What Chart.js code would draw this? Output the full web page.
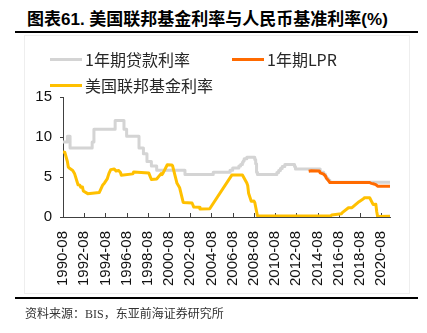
<!DOCTYPE html>
<html><head><meta charset="utf-8">
<script src="https://cdn.jsdelivr.net/npm/chart.js@4.4.1/dist/chart.umd.min.js"></script>
<style>
html,body{margin:0;padding:0;background:#fff;}
#wrap{position:relative;width:427px;height:333px;overflow:hidden;font-family:"Liberation Sans","Noto Sans CJK SC",sans-serif;}
#frame{position:absolute;left:24px;top:35px;width:384px;height:257px;border:1px solid #eeeeee;}
#title{position:absolute;left:27px;top:9px;font-size:17px;font-weight:bold;line-height:22px;color:#000;white-space:nowrap;}
.rule{position:absolute;left:15px;width:403px;height:2px;background:#000;}
#c{position:absolute;left:0;top:0;}
.lg{position:absolute;display:flex;align-items:center;font-family:"Noto Sans CJK SC",sans-serif;font-size:16px;color:#262626;white-space:nowrap;height:22px;line-height:22px;}
.lg i{display:inline-block;width:32px;height:3px;margin-right:3px;}
#src{position:absolute;left:25px;top:305px;font-size:12px;line-height:18px;color:#333;white-space:nowrap;font-family:"Liberation Serif","Noto Sans CJK SC",serif;}
</style>
</head><body>
<div id="wrap">
  <div id="frame"></div>
  <div id="title">图表61. 美国联邦基金利率与人民币基准利率(%)</div>
  <div class="rule" style="top:31px"></div>
  <canvas id="c" width="427" height="333"></canvas>
  <div class="lg" style="left:50px;top:48px"><i style="background:#D4D4D4"></i><span id="lg0"></span></div>
  <div class="lg" style="left:232px;top:48px"><i style="background:#FF6A00"></i><span id="lg1"></span></div>
  <div class="lg" style="left:50px;top:74px"><i style="background:#FFC000"></i><span id="lg2"></span></div>
  <div class="rule" style="top:297px"></div>
  <div id="src">资料来源：BIS，东亚前海证券研究所</div>
</div>
<script>
// ---- data ----
const seriesNames = ['1年期贷款利率', '1年期LPR', '美国联邦基金利率'];

const tickLabels = ['1990-08','1992-08','1994-08','1996-08','1998-08','2000-08','2002-08','2004-08',
  '2006-08','2008-08','2010-08','2012-08','2014-08','2016-08','2018-08','2020-08'];

const loanDates = ['1990-08','1991-01','1991-04','1993-05','1993-07','1995-07','1996-05','1996-08','1997-10','1998-03',
  '1998-07','1998-12','1999-06','2002-02','2004-10','2006-05','2006-08','2007-03','2007-05','2007-07',
  '2007-08','2007-09','2007-12','2008-09','2008-10','2008-11','2008-12','2010-10','2010-12','2011-02',
  '2011-04','2011-07','2012-06','2012-07','2014-11','2015-03','2015-05','2015-06','2015-08','2015-10','2021-06'];
const loanValues = [9.36,10.08,8.64,9.36,10.98,12.06,10.98,10.08,8.64,7.92,
  6.93,6.39,5.85,5.31,5.58,5.85,6.12,6.39,6.57,6.84,
  7.02,7.29,7.47,7.20,6.66,5.58,5.31,5.56,5.81,6.06,
  6.31,6.56,6.31,6.00,5.60,5.35,5.10,4.85,4.60,4.35,4.35];

const lprDates = ['2013-10','2014-01','2014-10','2014-11','2015-03','2015-05','2015-06','2015-08','2015-10',
  '2019-07','2019-08','2019-09','2019-11','2020-02','2020-04','2021-06'];
const lprValues = [5.71,5.77,5.76,5.51,5.35,5.11,4.86,4.60,4.30,4.31,4.25,4.20,4.15,4.05,3.85,3.85];

const fedDates = ['1990-08','1990-10','1991-01','1991-02','1991-03','1991-07','1991-09','1992-01','1992-03','1992-04',
  '1992-06','1992-07','1992-12','1994-01','1994-05','1994-07','1994-10','1994-12','1995-02','1995-06',
  '1995-08','1995-11','1996-01','1996-02','1997-03','1997-04','1998-09','1998-12','1999-06','1999-11',
  '1999-12','2000-01','2000-06','2000-11','2000-12','2001-05','2001-08','2001-12','2002-10','2002-12',
  '2003-06','2003-07','2004-06','2006-07','2007-07','2007-12','2008-01','2008-02','2008-05','2008-08',
  '2008-09','2008-12','2015-11','2015-12','2016-11','2016-12','2017-07','2017-11','2018-07','2018-12',
  '2019-01','2019-07','2019-11','2020-02','2020-03','2020-04','2021-06'];
const fedValues = [8.13,8.11,6.91,6.25,6.12,5.82,5.45,4.03,3.98,3.73,
  3.76,3.25,2.92,3.05,4.01,4.26,4.76,5.45,5.92,6.00,
  5.74,5.80,5.56,5.22,5.39,5.64,5.51,4.68,4.76,5.42,
  5.30,5.45,6.53,6.51,6.40,4.21,3.65,1.82,1.75,1.24,
  1.22,1.01,1.03,5.24,5.26,4.24,3.94,2.98,1.98,2.00,
  1.81,0.16,0.12,0.24,0.41,0.54,1.15,1.16,1.91,2.27,
  2.40,2.40,1.55,1.58,0.65,0.05,0.08];

const yTicks = [0, 5, 10, 15];

// ---- helpers ----
const monthIndex = s => { const p = s.split('-').map(Number); return (p[0] - 1990) * 12 + (p[1] - 8); };
const toPoints = (d, v) => d.map((s, i) => ({x: monthIndex(s), y: v[i]}));
const xStart = monthIndex(tickLabels[0]);
const xEnd = monthIndex(loanDates[loanDates.length - 1]);

document.getElementById('lg0').textContent = seriesNames[0];
document.getElementById('lg1').textContent = seriesNames[1];
document.getElementById('lg2').textContent = seriesNames[2];

const axisColor = '#404040';

const innerTicks = {
  id: 'innerTicks',
  beforeDatasetsDraw(chart) {
    const xs = chart.scales.x, ctx = chart.ctx, b = chart.chartArea.bottom;
    ctx.save();
    ctx.strokeStyle = axisColor; ctx.lineWidth = 1;
    xs.ticks.forEach(t => {
      const px = Math.round(xs.getPixelForValue(t.value)) + 0.5;
      ctx.beginPath(); ctx.moveTo(px, b); ctx.lineTo(px, b - 4); ctx.stroke();
    });
    ctx.restore();
  }
};

Chart.defaults.font.family = "'Liberation Sans', Arial, sans-serif";

new Chart(document.getElementById('c'), {
  type: 'line',
  data: {
    datasets: [
      {label: seriesNames[0], data: toPoints(loanDates, loanValues), borderColor: '#D4D4D4', borderWidth: 3,
       stepped: 'before', pointRadius: 0, order: 2},
      {label: seriesNames[1], data: toPoints(lprDates, lprValues), borderColor: '#FF6A00', borderWidth: 3,
       pointRadius: 0, order: 0},
      {label: seriesNames[2], data: toPoints(fedDates, fedValues), borderColor: '#FFC000', borderWidth: 3,
       pointRadius: 0, order: 1}
    ]
  },
  options: {
    responsive: false,
    animation: false,
    events: [],
    layout: {padding: {left: 0, right: 37, top: 97, bottom: 0}},
    plugins: {legend: {display: false}, tooltip: {enabled: false}},
    elements: {line: {tension: 0, borderJoinStyle: 'round', borderCapStyle: 'butt'}},
    scales: {
      x: {
        type: 'linear', min: xStart, max: xEnd,
        afterBuildTicks: s => { s.ticks = tickLabels.map(l => ({value: monthIndex(l)})); },
        afterFit: s => { s.height = 116; },
        grid: {display: false, drawTicks: false},
        border: {display: true, color: axisColor, width: 1},
        ticks: {autoSkip: false, minRotation: 90, maxRotation: 90, padding: 14,
                color: '#111', font: {size: 15},
                callback: (v, i) => tickLabels[i]}
      },
      y: {
        min: 0, max: 15,
        afterBuildTicks: s => { s.ticks = yTicks.map(v => ({value: v})); },
        afterFit: s => { s.width = 63; },
        grid: {display: true, drawOnChartArea: false, drawTicks: true, tickLength: 3, color: axisColor},
        border: {display: true, color: axisColor, width: 1},
        ticks: {padding: 8, color: '#111', font: {size: 15}}
      }
    }
  },
  plugins: [innerTicks]
});
</script>
</body></html>
